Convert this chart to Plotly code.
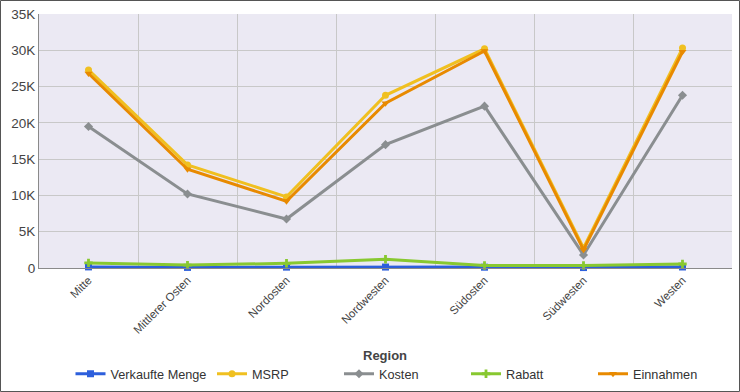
import plotly.graph_objects as go

categories = ["Mitte", "Mittlerer Osten", "Nordosten", "Nordwesten", "Südosten", "Südwesten", "Westen"]
verkaufte_menge = [150, 80, 120, 130, 110, 60, 140]
msrp = [27300, 14200, 9800, 23800, 30200, 2750, 30300]
kosten = [19500, 10200, 6750, 17000, 22300, 1800, 23800]
rabatt = [700, 400, 650, 1200, 350, 350, 550]
einnahmen = [26800, 13600, 9200, 22700, 29900, 2500, 29800]
y_tickvals = [0, 5000, 10000, 15000, 20000, 25000, 30000, 35000]
y_ticktext = ["0", "5K", "10K", "15K", "20K", "25K", "30K", "35K"]

series = [
    ("Verkaufte Menge", verkaufte_menge, "#2d5fdc", "square", "legend"),
    ("MSRP", msrp, "#f0c020", "circle", "legend2"),
    ("Kosten", kosten, "#8a8e90", "diamond", "legend2"),
    ("Rabatt", rabatt, "#88c830", "cross", "legend2"),
    ("Einnahmen", einnahmen, "#e88a00", "triangle-down", "legend2"),
]

fig = go.Figure()
for name, vals, color, sym, lg in series:
    fig.add_trace(go.Scatter(
        x=categories, y=vals, name=name, mode="lines+markers",
        line=dict(color=color, width=3),
        marker=dict(color=color, symbol=sym, size=7),
        cliponaxis=False, legend=lg,
    ))

W, H = 740, 392
ml, mr, mt, mb = 39, 8, 14, 124
pw, ph = W - ml - mr, H - mt - mb


def px_x(x):
    return (x - ml) / pw


def px_y(y):
    return (H - mb - y) / ph


legend_font = dict(family="Liberation Sans, Arial, sans-serif", size=12.7, color="#333")

fig.update_layout(
    width=W, height=H,
    margin=dict(l=ml, r=mr, t=mt, b=mb, autoexpand=False),
    paper_bgcolor="white",
    plot_bgcolor="#ebe9f3",
    font=dict(family="Liberation Sans, Arial, sans-serif", size=12, color="#444"),
    xaxis=dict(
        type="category", tickson="boundaries", range=[-0.5, 6.5],
        showgrid=True, gridcolor="#c8c8c8", gridwidth=1,
        showline=True, linecolor="#8a8a8a", linewidth=1,
        tickangle=-45, tickfont=dict(size=11.5, color="#444"), ticks="",
    ),
    yaxis=dict(
        range=[0, 35000], tickvals=y_tickvals, ticktext=y_ticktext,
        showgrid=True, gridcolor="#c8c8c8", gridwidth=1,
        showline=True, linecolor="#8a8a8a", linewidth=1,
        zeroline=False, tickfont=dict(size=13.5, color="#444"), ticks="",
    ),
    legend=dict(
        orientation="h", x=px_x(70.5), xanchor="left",
        y=px_y(374), yanchor="middle",
        font=legend_font, bgcolor="rgba(0,0,0,0)",
    ),
    legend2=dict(
        orientation="h", x=px_x(212), xanchor="left",
        y=px_y(374), yanchor="middle",
        font=legend_font, bgcolor="rgba(0,0,0,0)",
        entrywidth=82, entrywidthmode="pixels",
    ),
    annotations=[dict(
        text="<b>Region</b>", xref="paper", yref="paper",
        x=px_x(385), y=px_y(355), xanchor="center", yanchor="middle",
        showarrow=False, font=dict(family="Liberation Sans, Arial, sans-serif", size=13, color="#444"),
    )],
    showlegend=True,
    shapes=[dict(
        type="rect", xref="paper", yref="paper",
        x0=px_x(0.5), x1=px_x(W - 0.5),
        y0=px_y(H - 0.5), y1=px_y(0.5),
        line=dict(color="#555", width=1), layer="above",
    )],
)

fig.write_html(
    "out.html",
    config={"displayModeBar": False},
    post_script="document.body.style.margin='0';document.body.style.overflow='hidden';",
)
